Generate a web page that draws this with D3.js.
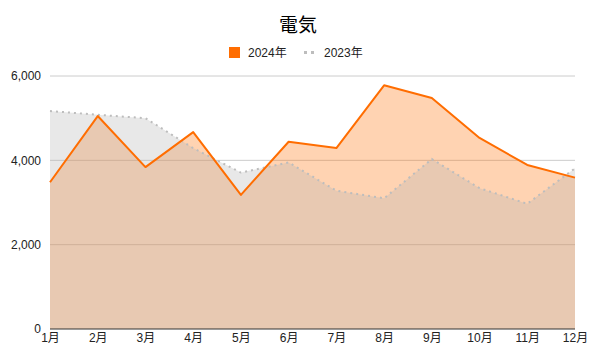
<!DOCTYPE html>
<html><head><meta charset="utf-8">
<script src="https://cdn.jsdelivr.net/npm/d3@7"></script>
<style>body{margin:0;background:#fff;font-family:"Liberation Sans",Arial,"Noto Sans CJK JP",sans-serif;}</style>
</head><body><svg id="c" width="600" height="360"></svg>
<script>
const title = "電気";
const months = ["1月","2月","3月","4月","5月","6月","7月","8月","9月","10月","11月","12月"];
const series2024 = [3480,5050,3840,4670,3180,4440,4290,5780,5480,4530,3890,3590];
const series2023 = [5170,5080,5000,4290,3710,3950,3280,3100,4030,3340,2970,3810];
const seriesNames = ["2024年","2023年"];
const yTicks = [0,2000,4000,6000];

const svg = d3.select("#c");
const L=50,R=575,T=76,B=329;
const x = d3.scalePoint().domain(months).range([L,R]);
const y = d3.scaleLinear().domain([0,6000]).range([B,T]);
const orange="#ff6d01", gray="#b2b2b2";

svg.append("text").attr("x",298).attr("y",32).attr("text-anchor","middle")
  .attr("font-size",19).attr("font-weight","normal").attr("fill","#000").text(title);

// grid
svg.append("g").selectAll("line").data(yTicks.filter(d=>d>0)).join("line")
  .attr("x1",L).attr("x2",R).attr("y1",d=>y(d)).attr("y2",d=>y(d))
  .attr("stroke","#cccccc").attr("stroke-width",1);

const area = d3.area().x((d,i)=>x(months[i])).y0(B).y1(d=>y(d));
const line = d3.line().x((d,i)=>x(months[i])).y(d=>y(d));
svg.append("path").datum(series2024).attr("d",area).attr("fill",orange).attr("fill-opacity",0.3);
svg.append("path").datum(series2023).attr("d",area).attr("fill",gray).attr("fill-opacity",0.3);
svg.append("path").datum(series2023).attr("d",line).attr("fill","none").attr("stroke","#bdbdbd")
  .attr("stroke-width",2).attr("stroke-dasharray","2,4");
svg.append("path").datum(series2024).attr("d",line).attr("fill","none").attr("stroke",orange)
  .attr("stroke-width",2).attr("stroke-linejoin","round");

// y axis
const ya = svg.append("g").attr("transform",`translate(${L-6},0)`)
  .call(d3.axisLeft(y).tickValues(yTicks).tickSize(0).tickFormat(d3.format(",")));
ya.select(".domain").remove();
ya.selectAll("text").attr("font-size",12).attr("fill","#222").attr("font-family","Liberation Sans, Arial, sans-serif").attr("dy","0.32em");

// baseline
svg.append("line").attr("x1",L).attr("x2",R).attr("y1",B).attr("y2",B).attr("stroke","#333").attr("stroke-width",1);

// x axis
const xa = svg.append("g").attr("transform",`translate(0,${B})`)
  .call(d3.axisBottom(x).tickSize(0).tickPadding(4));
xa.select(".domain").remove();
xa.selectAll("text").attr("font-size",12).attr("fill","#222").attr("font-family","Liberation Sans, Arial, Noto Sans CJK JP, sans-serif");

// legend
const lg = svg.append("g");
lg.append("rect").attr("x",229).attr("y",47).attr("width",11).attr("height",11).attr("fill",orange);
lg.append("text").attr("x",248).attr("y",57).attr("font-size",12).attr("fill","#222").text(seriesNames[0]);
lg.append("line").attr("x1",304).attr("x2",317).attr("y1",52.5).attr("y2",52.5).attr("stroke","#bdbdbd")
  .attr("stroke-width",3).attr("stroke-dasharray","3,4");
lg.append("text").attr("x",324).attr("y",57).attr("font-size",12).attr("fill","#222").text(seriesNames[1]);
</script></body></html>
